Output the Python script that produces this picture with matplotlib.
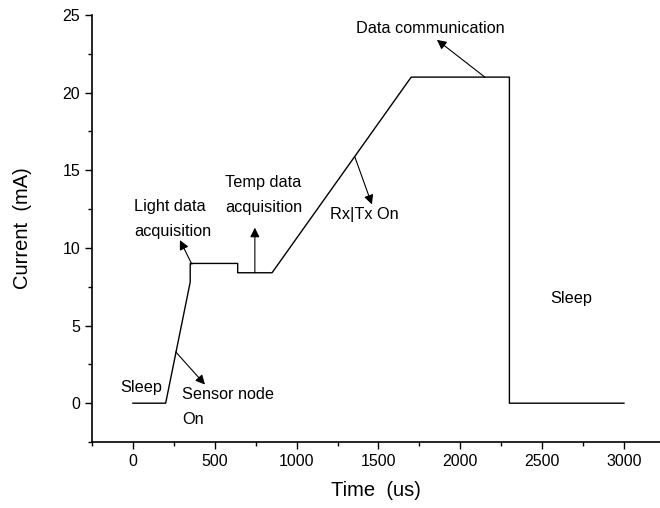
import matplotlib
matplotlib.use("Agg")
import matplotlib.pyplot as plt
from matplotlib.ticker import MultipleLocator

plt.rcParams['font.family'] = ['Liberation Sans', 'DejaVu Sans']

# current profile of the node (time in us, current in mA)
time_us = [0, 200, 350, 350, 640, 640, 850, 1700, 2300, 2300, 3000]
current_ma = [0, 0, 7.8, 9, 9, 8.4, 8.4, 21, 21, 0, 0]

# labels: (text, x, y)
labels = [
    ("Sleep", -80, 1.0),
    ("Sensor node", 300, 0.55),
    ("On", 300, -1.05),
    ("Light data", 6, 12.65),
    ("acquisition", 6, 11.05),
    ("Temp data", 562, 14.2),
    ("acquisition", 562, 12.6),
    ("Rx|Tx On", 1204, 12.15),
    ("Data communication", 1362, 24.1),
    ("Sleep", 2548, 6.75),
]

# arrows: (start on curve, arrow head)
arrows = [
    ((262, 3.3), (440, 1.2)),
    ((360, 8.95), (287, 10.5)),
    ((745, 8.4), (745, 11.3)),
    ((1356, 15.85), (1460, 12.8)),
    ((2150, 21), (1857, 23.4)),
]

fig = plt.figure(figsize=(6.6, 5.08), dpi=100)
ax = fig.add_axes([92 / 660, 66 / 508, 568 / 660, 427 / 508])

ax.plot(time_us, current_ma, color="black", lw=1.0)

for txt, x, y in labels:
    ax.text(x, y, txt, fontsize=11.7, ha="left", va="center")

for start, end in arrows:
    ax.annotate("", xy=end, xytext=start,
                arrowprops=dict(arrowstyle="-|>", color="black", lw=0.8,
                                mutation_scale=14, shrinkA=0, shrinkB=0))

ax.set_xlim(-250, 3220)
ax.set_ylim(-2.5, 25)
ax.xaxis.set_major_locator(MultipleLocator(500))
ax.xaxis.set_minor_locator(MultipleLocator(250))
ax.yaxis.set_major_locator(MultipleLocator(5))
ax.yaxis.set_minor_locator(MultipleLocator(2.5))
ax.tick_params(which="major", length=5, width=1, labelsize=11.5, direction="out")
ax.tick_params(which="minor", length=3, width=1, direction="out")
ax.spines["top"].set_visible(False)
ax.spines["right"].set_visible(False)
for s in ("left", "bottom"):
    ax.spines[s].set_linewidth(1.2)

ax.set_xlabel("Time  (us)", fontsize=14.5, labelpad=9)
ax.set_ylabel("Current  (mA)", fontsize=14.5, labelpad=22)

fig.savefig("out.png", dpi=100)
